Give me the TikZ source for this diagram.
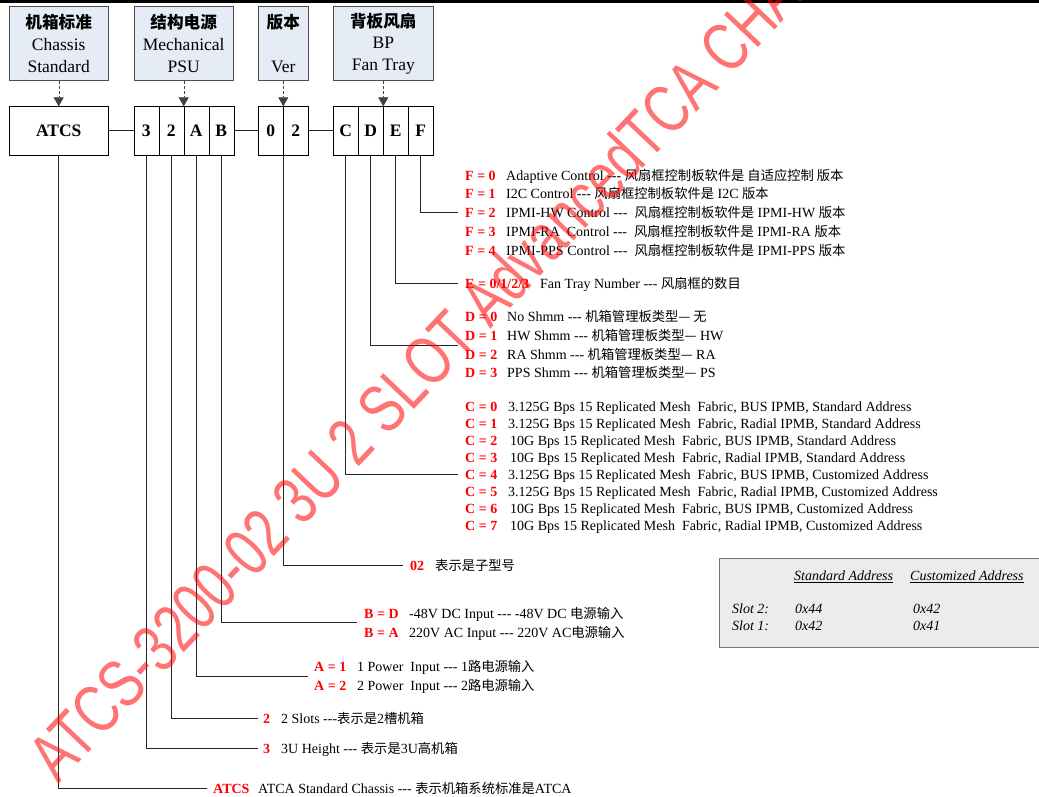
\documentclass[tikz,border=0pt]{standalone}
\usepackage{fontspec}
\setmainfont{Liberation Serif}
\newfontfamily\wmfont{Liberation Sans}
\newfontfamily\cjk{Noto Sans CJK SC}[Scale=0.95]
\newcommand{\zh}[1]{{\cjk #1}}
\usetikzlibrary{arrows.meta}
\definecolor{hdrblue}{RGB}{230,236,246}
\definecolor{tblgray}{RGB}{236,236,236}
\tikzset{
  hdr/.style={draw=black!70, fill=hdrblue, inner sep=0pt, minimum height=74pt, align=center, font=\fontsize{17.5}{21.7}\selectfont},
  codebox/.style={draw=black, fill=white, inner sep=0pt, minimum height=48.5pt, font=\bfseries\fontsize{17.5}{20}\selectfont},
  feed/.style={densely dashed, draw=black!75, -{Triangle[length=9pt,width=10pt]}},
  branch/.style={draw=black!85, line width=0.8pt},
  keyval/.style={anchor=base west, inner sep=0pt, text=red, font=\bfseries\fontsize{14}{16}\selectfont},
  keytxt/.style={anchor=base west, inner sep=0pt, font=\fontsize{14}{16}\selectfont},
  tbltxt/.style={anchor=base west, inner sep=0pt, font=\itshape\fontsize{14}{16}\selectfont},
  wmark/.style={anchor=base west, inner sep=0pt, rotate=46.5, text=red, text opacity=0.55, font=\wmfont\fontsize{68}{68}\selectfont}
}
\begin{document}
\begin{tikzpicture}[x=1pt,y=-1pt]
  \useasboundingbox (0,0) rectangle (1039,796);
  \draw[line width=3pt] (0,1.5) -- (1039,1.5);

  \node[hdr, minimum width=99pt] (hChassis) at (58.7,43.5) {\zh{\bfseries 机箱标准}\\Chassis\\Standard};
  \node[hdr, minimum width=99pt] (hPsu) at (183.7,43.5) {\zh{\bfseries 结构电源}\\Mechanical\\PSU};
  \node[hdr, minimum width=50pt] (hVer) at (283.3,43.5) {\zh{\bfseries 版本}\\\mbox{}\\Ver};
  \node[hdr, minimum width=100pt] (hFan) at (383.3,43.5) {\zh{\bfseries 背板风扇}\\BP\\Fan Tray};

  \node[codebox, minimum width=99pt] (atcs) at (58.7,130.8) {ATCS};
  \node[codebox, minimum width=25pt] (c3) at (146.2,130.8) {3};
  \node[codebox, minimum width=25pt] (c2) at (171.2,130.8) {2};
  \node[codebox, minimum width=25pt] (cA) at (196.2,130.8) {A};
  \node[codebox, minimum width=25pt] (cB) at (221.2,130.8) {B};
  \node[codebox, minimum width=25pt] (v0) at (270.8,130.8) {0};
  \node[codebox, minimum width=25pt] (v2) at (295.8,130.8) {2};
  \node[codebox, minimum width=25pt] (cC) at (345.8,130.8) {C};
  \node[codebox, minimum width=25pt] (cD) at (370.8,130.8) {D};
  \node[codebox, minimum width=25pt] (cE) at (395.8,130.8) {E};
  \node[codebox, minimum width=25pt] (cF) at (420.8,130.8) {F};

  \draw[feed] (hChassis.south) -- (hChassis.south |- atcs.north);
  \draw[feed] (hPsu.south) -- (hPsu.south |- cA.north);
  \draw[feed] (hVer.south) -- (hVer.south |- v0.north);
  \draw[feed] (hFan.south) -- (hFan.south |- cE.north);

  \draw[branch] (atcs.east) -- (c3.west);
  \draw[branch] (cB.east) -- (v0.west);
  \draw[branch] (v2.east) -- (cC.west);

  \coordinate (fEnd) at (458,212.5);
  \coordinate (eEnd) at (458,283);
  \coordinate (dEnd) at (458,345);
  \coordinate (cEnd) at (458,474.5);
  \coordinate (verEnd) at (403,565);
  \coordinate (bEnd) at (357,622.5);
  \coordinate (aEnd) at (307.5,676);
  \coordinate (slotEnd) at (258,718.3);
  \coordinate (heightEnd) at (258,748.5);
  \coordinate (atcsEnd) at (207,788);
  \draw[branch] (cF.south) |- (fEnd);
  \draw[branch] (cE.south) |- (eEnd);
  \draw[branch] (cD.south) |- (dEnd);
  \draw[branch] (cC.south) |- (cEnd);
  \draw[branch] (v0.south east) |- (verEnd);
  \draw[branch] (cB.south) |- (bEnd);
  \draw[branch] (cA.south) |- (aEnd);
  \draw[branch] (c2.south) |- (slotEnd);
  \draw[branch] (c3.south) |- (heightEnd);
  \draw[branch] (atcs.south) |- (atcsEnd);

  \node[keyval] (f0) at (465,180) {F = 0};
  \node[keytxt] (f0t) at (506,180) {Adaptive Control -{}-{}- \zh{风扇框控制板软件是 自适应控制 版本}};
  \node[keyval] (f1) at (465,198.5) {F = 1};
  \node[keytxt] (f1t) at (506,198.5) {I2C Control -{}-{}- \zh{风扇框控制板软件是} I2C \zh{版本}};
  \node[keyval] (f2) at (465,217.5) {F = 2};
  \node[keytxt] (f2t) at (506,217.5) {IPMI-HW Control -{}-{}-\ \ \zh{风扇框控制板软件是} IPMI-HW \zh{版本}};
  \node[keyval] (f3) at (465,236.5) {F = 3};
  \node[keytxt] (f3t) at (506,236.5) {IPMI-RA\ \ Control -{}-{}-\ \ \zh{风扇框控制板软件是} IPMI-RA \zh{版本}};
  \node[keyval] (f4) at (465,255) {F = 4};
  \node[keytxt] (f4t) at (506,255) {IPMI-PPS Control -{}-{}-\ \ \zh{风扇框控制板软件是} IPMI-PPS \zh{版本}};

  \node[keyval] (e0) at (465,288) {E = 0/1/2/3};
  \node[keytxt] (e0t) at (540,288) {Fan Tray Number -{}-{}- \zh{风扇框的数目}};

  \node[keyval] (d0) at (465,321) {D = 0};
  \node[keytxt] (d0t) at (507,321) {No Shmm -{}-{}- \zh{机箱管理板类型— 无}};
  \node[keyval] (d1) at (465,340) {D = 1};
  \node[keytxt] (d1t) at (507,340) {HW Shmm -{}-{}- \zh{机箱管理板类型—} HW};
  \node[keyval] (d2) at (465,359) {D = 2};
  \node[keytxt] (d2t) at (507,359) {RA Shmm -{}-{}- \zh{机箱管理板类型—} RA};
  \node[keyval] (d3) at (465,377) {D = 3};
  \node[keytxt] (d3t) at (507,377) {PPS Shmm -{}-{}- \zh{机箱管理板类型—} PS};

  \node[keyval] (k0) at (465,411) {C = 0};
  \node[keytxt] (k0t) at (508,411) {3.125G Bps 15 Replicated Mesh\ \ Fabric, BUS IPMB, Standard Address};
  \node[keyval] (k1) at (465,428) {C = 1};
  \node[keytxt] (k1t) at (508,428) {3.125G Bps 15 Replicated Mesh\ \ Fabric, Radial IPMB, Standard Address};
  \node[keyval] (k2) at (465,445) {C = 2};
  \node[keytxt] (k2t) at (510,445) {10G Bps 15 Replicated Mesh\ \ Fabric, BUS IPMB, Standard Address};
  \node[keyval] (k3) at (465,462) {C = 3};
  \node[keytxt] (k3t) at (510,462) {10G Bps 15 Replicated Mesh\ \ Fabric, Radial IPMB, Standard Address};
  \node[keyval] (k4) at (465,479) {C = 4};
  \node[keytxt] (k4t) at (508,479) {3.125G Bps 15 Replicated Mesh\ \ Fabric, BUS IPMB, Customized Address};
  \node[keyval] (k5) at (465,496) {C = 5};
  \node[keytxt] (k5t) at (508,496) {3.125G Bps 15 Replicated Mesh\ \ Fabric, Radial IPMB, Customized Address};
  \node[keyval] (k6) at (465,513) {C = 6};
  \node[keytxt] (k6t) at (510,513) {10G Bps 15 Replicated Mesh\ \ Fabric, BUS IPMB, Customized Address};
  \node[keyval] (k7) at (465,530) {C = 7};
  \node[keytxt] (k7t) at (510,530) {10G Bps 15 Replicated Mesh\ \ Fabric, Radial IPMB, Customized Address};

  \node[keyval] (ver) at (410,570) {02};
  \node[keytxt] (vert) at (435,570) {\zh{表示是子型号}};

  \node[keyval] (bd) at (364,618.5) {B = D};
  \node[keytxt] (bdt) at (409,618.5) {-48V DC Input -{}-{}- -48V DC \zh{电源输入}};
  \node[keyval] (ba) at (364,637) {B = A};
  \node[keytxt] (bat) at (409,637) {220V AC Input -{}-{}- 220V AC\zh{电源输入}};

  \node[keyval] (a1) at (314,671.5) {A = 1};
  \node[keytxt] (a1t) at (357,671.5) {1 Power\ \ Input -{}-{}- 1\zh{路电源输入}};
  \node[keyval] (a2) at (314,690) {A = 2};
  \node[keytxt] (a2t) at (357,690) {2 Power\ \ Input -{}-{}- 2\zh{路电源输入}};

  \node[keyval] (slot) at (263,723) {2};
  \node[keytxt] (slott) at (281,723) {2 Slots -{}-{}-\zh{表示是}2\zh{槽机箱}};
  \node[keyval] (height) at (263,753.5) {3};
  \node[keytxt] (heightt) at (281,753.5) {3U Height -{}-{}- \zh{表示是}3U\zh{高机箱}};
  \node[keyval] (std) at (213,793.5) {ATCS};
  \node[keytxt] (stdt) at (258,793.5) {ATCA Standard Chassis -{}-{}- \zh{表示机箱系统标准是}ATCA};

  \draw[fill=tblgray, draw=black!55, line width=1pt] (719,558) rectangle (1045,647);
  \node[tbltxt] (stdHead) at (794,580.5) {\underline{Standard Address}};
  \node[tbltxt] (cusHead) at (910,580.5) {\underline{Customized Address}};
  \node[tbltxt] (slot2) at (732,613.5) {Slot 2:};
  \node[tbltxt] (slot2s) at (795,613.5) {0x44};
  \node[tbltxt] (slot2c) at (913,613.5) {0x42};
  \node[tbltxt] (slot1) at (732,630.5) {Slot 1:};
  \node[tbltxt] (slot1s) at (795,630.5) {0x42};
  \node[tbltxt] (slot1c) at (913,630.5) {0x41};

  \node[wmark] (wm) at (58,785) {\scalebox{0.76}[1]{ATCS-3200-02 3U 2 SLOT AdvancedTCA CHASSIS}};
\end{tikzpicture}
\end{document}
